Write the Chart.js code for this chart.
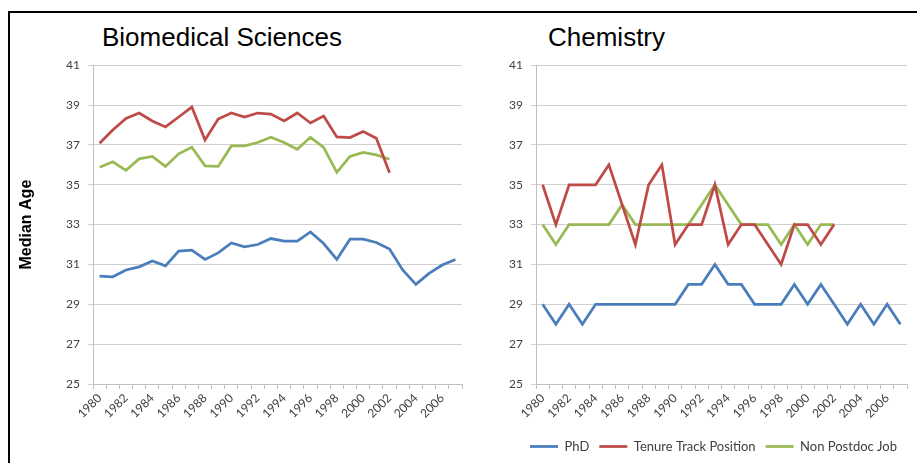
<!DOCTYPE html>
<html lang="en">
<head>
    <meta charset="UTF-8">
    <title>Median Age</title>
    <script src="https://cdn.jsdelivr.net/npm/chart.js"></script>
    <style>
        html, body { margin: 0; padding: 0; background: #fff; }
        body { width: 917px; height: 463px; position: relative; overflow: hidden; }
        #frame { position: absolute; left: 8px; top: 11px; right: -4px; bottom: -4px; border-top: 2px solid #000; border-left: 2px solid #000; }
        .title { position: absolute; top: 24px; font: 26px/26px "Liberation Sans", Arial, sans-serif; color: #000; white-space: nowrap; }
        canvas { position: absolute; top: 50px; }
    </style>
</head>
<body>
    <div id="frame"></div>
    <div class="title" style="left:102px">Biomedical Sciences</div>
    <div class="title" style="left:548px">Chemistry</div>
    <canvas id="bioChart" width="460" height="413" style="left:10px"></canvas>
    <canvas id="chemChart" width="447" height="413" style="left:470px"></canvas>
    <script>
        const years = ["1980", "1981", "1982", "1983", "1984", "1985", "1986", "1987", "1988", "1989",
            "1990", "1991", "1992", "1993", "1994", "1995", "1996", "1997", "1998", "1999",
            "2000", "2001", "2002", "2003", "2004", "2005", "2006", "2007"];
        const seriesNames = ["PhD", "Tenure Track Position", "Non Postdoc Job"];
        const seriesColors = ["#4A7EBB", "#BE4B48", "#98B954"];
        const yTicks = [25, 27, 29, 31, 33, 35, 37, 39, 41];

        // Biomedical Sciences
        const bioPhd = [30.42, 30.38, 30.72, 30.88, 31.17, 30.93, 31.67, 31.72, 31.25, 31.58,
            32.08, 31.88, 32.0, 32.3, 32.17, 32.17, 32.63, 32.05, 31.25, 32.27,
            32.27, 32.1, 31.77, 30.72, 30.0, 30.55, 30.97, 31.25];
        const bioTenure = [37.08, 37.75, 38.33, 38.6, 38.2, 37.9, 38.4, 38.9, 37.25, 38.3,
            38.6, 38.4, 38.6, 38.55, 38.2, 38.6, 38.1, 38.45, 37.4, 37.37,
            37.67, 37.33, 35.6, null, null, null, null, null];
        const bioNonPostdoc = [35.88, 36.15, 35.72, 36.3, 36.42, 35.92, 36.55, 36.88, 35.95, 35.92,
            36.95, 36.95, 37.12, 37.38, 37.12, 36.78, 37.38, 36.88, 35.62, 36.42,
            36.62, 36.5, 36.28, null, null, null, null, null];

        // Chemistry
        const chemPhd = [29, 28, 29, 28, 29, 29, 29, 29, 29, 29,
            29, 30, 30, 31, 30, 30, 29, 29, 29, 30,
            29, 30, 29, 28, 29, 28, 29, 28];
        const chemTenure = [35, 33, 35, 35, 35, 36, 34, 32, 35, 36,
            32, 33, 33, 35, 32, 33, 33, 32, 31, 33,
            33, 32, 33, null, null, null, null, null];
        const chemNonPostdoc = [33, 32, 33, 33, 33, 33, 34, 33, 33, 33,
            33, 33, 34, 35, 34, 33, 33, 33, 32, 33,
            32, 33, 33, null, null, null, null, null];

        const tickFont = { family: "Lato, 'Open Sans', sans-serif", size: 12 };
        const textColor = "#404040";
        const gridColor = "#d0d0d0";
        const axisColor = "#bfbfbf";

        function makeDatasets(values) {
            return values.map((v, i) => ({
                label: seriesNames[i],
                data: v,
                borderColor: seriesColors[i],
                backgroundColor: seriesColors[i],
                borderWidth: 2.75,
                pointRadius: 0,
                tension: 0,
                spanGaps: false
            }));
        }

        function makeOptions(yWidth, xHeight, showTitle, showLegend, padRight) {
            return {
                responsive: false,
                animation: false,
                layout: { padding: { top: 14, right: padRight, bottom: 0, left: 0 } },
                plugins: {
                    legend: {
                        display: showLegend,
                        position: "bottom",
                        align: "end",
                        labels: {
                            usePointStyle: true,
                            pointStyle: "line",
                            pointStyleWidth: 28,
                            padding: 10,
                            color: textColor,
                            font: { family: "Lato, 'Open Sans', sans-serif", size: 13 }
                        }
                    },
                    tooltip: { enabled: false }
                },
                scales: {
                    x: {
                        offset: true,
                        afterFit: s => { s.height = xHeight; },
                        grid: { offset: true, drawOnChartArea: false, drawTicks: true, tickLength: 5, color: axisColor },
                        border: { display: true, color: axisColor, width: 1 },
                        ticks: {
                            autoSkip: false,
                            minRotation: 45,
                            maxRotation: 45,
                            padding: 2,
                            color: textColor,
                            font: tickFont,
                            callback: (val, idx) => idx % 2 === 0 ? years[idx] : ""
                        }
                    },
                    y: {
                        min: yTicks[0],
                        max: yTicks[yTicks.length - 1],
                        afterFit: s => { s.width = yWidth; },
                        afterBuildTicks: s => { s.ticks = yTicks.map(v => ({ value: v })); },
                        grid: { color: gridColor, tickLength: 5, drawTicks: true },
                        border: { display: true, color: axisColor, width: 1 },
                        ticks: { padding: 8, color: textColor, font: tickFont },
                        title: {
                            display: showTitle,
                            text: "Median Age",
                            color: "#000",
                            padding: { top: 7, bottom: 0 },
                            font: { family: "'Liberation Sans', Arial, sans-serif", size: 16, weight: "bold" }
                        }
                    }
                }
            };
        }

        new Chart(document.getElementById("bioChart"), {
            type: "line",
            data: { labels: years, datasets: makeDatasets([bioPhd, bioTenure, bioNonPostdoc]) },
            options: makeOptions(83, 79, true, false, 8)
        });

        new Chart(document.getElementById("chemChart"), {
            type: "line",
            data: { labels: years, datasets: makeDatasets([chemPhd, chemTenure, chemNonPostdoc]) },
            options: makeOptions(66, 46, false, true, 10)
        });
    </script>
</body>
</html>
